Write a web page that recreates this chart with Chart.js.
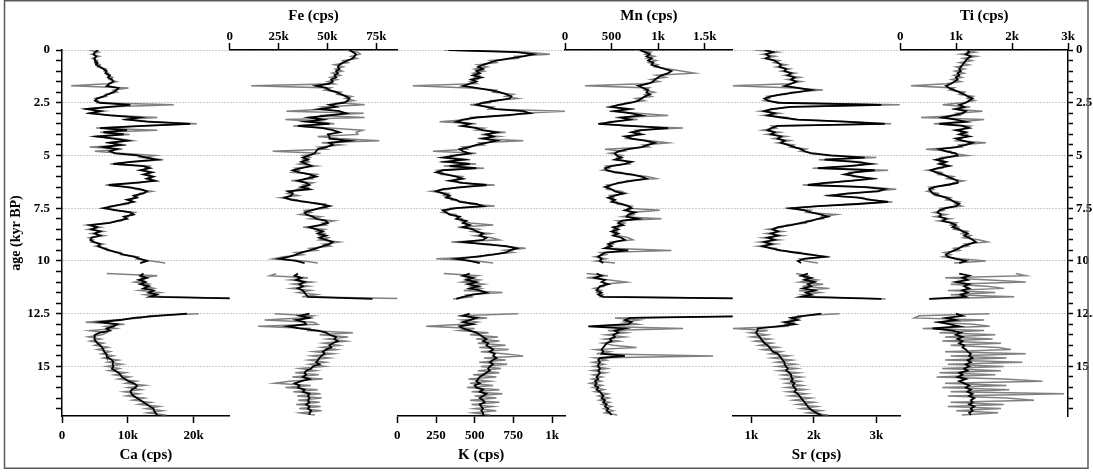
<!DOCTYPE html>
<html>
<head>
<meta charset="utf-8">
<title>XRF core scanning record</title>
<script src="https://cdn.jsdelivr.net/npm/chart.js@4.4.1/dist/chart.umd.min.js"></script>
<style>
  body { margin: 0; background: #fff; }
  #wrap { width: 1093px; height: 473px; }
</style>
</head>
<body>
<div id="wrap"><canvas id="xrf" width="1093" height="473"></canvas></div>
<script>
// Age in kyr BP (null values at 10.35 and 12.15 mark the core gaps)
const ages = [
  0, 0.1, 0.2, 0.3, 0.4, 0.5, 0.6, 0.7, 0.8, 0.9,
  1, 1.1, 1.2, 1.3, 1.4, 1.5, 1.6, 1.7, 1.8, 1.9,
  2, 2.1, 2.2, 2.3, 2.4, 2.5, 2.6, 2.7, 2.8, 2.9,
  3, 3.1, 3.2, 3.3, 3.4, 3.5, 3.6, 3.7, 3.8, 3.9,
  4, 4.1, 4.2, 4.3, 4.4, 4.5, 4.6, 4.7, 4.8, 4.9,
  5, 5.1, 5.2, 5.3, 5.4, 5.5, 5.6, 5.7, 5.8, 5.9,
  6, 6.1, 6.2, 6.3, 6.4, 6.5, 6.6, 6.7, 6.8, 6.9,
  7, 7.1, 7.2, 7.3, 7.4, 7.5, 7.6, 7.7, 7.8, 7.9,
  8, 8.1, 8.2, 8.3, 8.4, 8.5, 8.6, 8.7, 8.8, 8.9,
  9, 9.1, 9.2, 9.3, 9.4, 9.5, 9.6, 9.7, 9.8, 9.9,
  10, 10.1,
  10.35,
  10.6, 10.7, 10.8, 10.9, 11, 11.1, 11.2, 11.3, 11.4, 11.5, 11.6, 11.7, 11.8,
  12.15,
  12.5, 12.6, 12.7, 12.8, 12.9, 13, 13.1, 13.2, 13.3, 13.4,
  13.5, 13.6, 13.7, 13.8, 13.9, 14, 14.1, 14.2, 14.3, 14.4,
  14.5, 14.6, 14.7, 14.8, 14.9, 15, 15.1, 15.2, 15.3, 15.4,
  15.5, 15.6, 15.7, 15.8, 15.9, 16, 16.1, 16.2, 16.3, 16.4,
  16.5, 16.6, 16.7, 16.8, 16.9, 17, 17.1, 17.2, 17.3
];

// tick labels of each panel
const caTicks = [0, 10000, 20000];
const feTicks = [0, 25000, 50000, 75000];
const kTicks = [0, 250, 500, 750, 1000];
const mnTicks = [0, 500, 1000, 1500];
const srTicks = [1000, 2000, 3000];
const tiTicks = [0, 1000, 2000, 3000];

// Ca (cps)
const caRaw = [
  4100, 5600, 4500, 5700, 4600, 5400, 5000, 5800, 5400, 6700,
  6400, 7100, 6900, 7700, 7200, 8300, 6900, 1400, 10100, 7800,
  8400, 6600, 6800, 5000, 5500, 5300, 17000, 6700, 3300, 6400,
  3800, 8200, 14500, 9200, 14000, 20500, 11600, 5200, 14500, 5800,
  10300, 4800, 8600, 10700, 6600, 9800, 4200, 9200, 5000, 8900,
  14200, 12200, 15400, 11200, 7300, 13300, 12600, 12700, 13000, 13300,
  13200, 13600, 13500, 11700, 6600, 10600, 11200, 13700, 11800, 11600,
  10800, 10700, 10300, 10100, 7200, 6900, 7800, 11100, 10300, 10100,
  9300, 9100, 6800, 3800, 5900, 4000, 6300, 4500, 6400, 4100,
  4800, 4400, 6300, 5100, 6800, 6800, 9000, 8900, 11600, 11300,
  13600, 15700,
  null,
  6800, 14500, 12100, 12500, 11000, 13300, 12600, 14000, 11700, 14900, 12600, 15300, 30000,
  null,
  20800, 13300, 12000, 7900, 3600, 9500, 6600, 8200, 4200, 6800,
  6100, 4000, 5900, 4300, 6300, 5000, 7000, 5400, 7300, 6000,
  7800, 6300, 8600, 7000, 9100, 6800, 8700, 7100, 9700, 8000,
  10300, 8600, 11300, 9700, 12600, 10000, 12000, 9400, 11700, 9800,
  12500, 10800, 13500, 11700, 14800, 12800, 15300, 13000, 15800
];
const caSmooth = [
  5500, 5000, 4800, 5200, 4900, 5000, 5400, 5200, 5800, 6300,
  6800, 6600, 7300, 7000, 7600, 7800, 7200, 6800, 8600, 8300,
  7800, 7000, 6300, 5300, 5000, 5800, 10400, 7300, 3800, 5800,
  4300, 7300, 11700, 9900, 12900, 19500, 12400, 5800, 9900, 6300,
  9400, 5300, 7800, 9900, 7300, 8900, 6300, 8400, 7300, 8100,
  11400, 12900, 14400, 10400, 7800, 12400, 13400, 11900, 13700, 12400,
  13900, 12900, 14200, 10900, 7100, 9900, 11900, 12900, 12400, 10900,
  11400, 9900, 10900, 9400, 7800, 6300, 8400, 10400, 10900, 9400,
  9900, 8400, 7300, 4300, 5300, 4500, 5800, 5000, 5800, 4500,
  4300, 4800, 5800, 5500, 6300, 7300, 8400, 9400, 10900, 11900,
  12900, 11900,
  null,
  12400, 11900, 12900, 11700, 12700, 11900, 13200, 12400, 13900, 13200, 14400, 13400, 30000,
  null,
  19000, 14500, 10900, 8900, 5800, 8400, 7800, 6800, 7300, 5800,
  5000, 4900, 5000, 5100, 5400, 5800, 6100, 6300, 6400, 6700,
  6800, 7100, 7600, 7800, 7700, 7800, 7600, 8100, 8600, 8900,
  9100, 9600, 10100, 10900, 11400, 11200, 10600, 10400, 10600, 10900,
  11400, 11900, 12400, 12900, 13400, 13900, 14000, 14200, 14500
];

// Fe (cps)
const feRaw = [
  58700, 65500, 66800, 62000, 65000, 58000, 60500, 53500, 58000, 54000,
  57500, 52500, 56500, 51500, 55000, 50000, 53500, 11000, 51500, 48500,
  57000, 55000, 62500, 59000, 63500, 56000, 69000, 47000, 50500, 29000,
  68500, 46000, 69000, 28500, 45500, 53500, 32500, 51000, 68000, 64600,
  65500, 45000, 56000, 76500, 47000, 57000, 45500, 49500, 22000, 46500,
  37500, 41000, 37500, 40500, 35500, 44500, 33500, 35500, 32000, 44500,
  41000, 42500, 31500, 42500, 37500, 40000, 34500, 32500, 29500, 35000,
  26000, 34500, 36500, 49000, 48000, 50000, 38500, 41500, 36000, 46500,
  41000, 53500, 47500, 49500, 37500, 48500, 44500, 48500, 46000, 50500,
  46000, 56000, 48000, 51500, 41000, 44500, 33500, 37500, 27500, 22000,
  38000, 45000,
  null,
  23800, 20400, 40000, 31000, 42000, 32500, 40500, 31500, 41500, 35000, 44500, 37000, 95000,
  null,
  23000, 42500, 36000, 17900, 43000, 45000, 14500, 41000, 40000, 63000,
  46000, 60500, 50000, 59500, 48000, 56000, 47000, 54500, 43000, 53000,
  42000, 51000, 40500, 49000, 41000, 48500, 36000, 44000, 33500, 45500,
  32000, 47500, 30500, 23000, 41500, 28500, 45000, 32500, 46500, 34500,
  47000, 35000, 46000, 34000, 46500, 35500, 47000, 36000, 43500
];
const feSmooth = [
  61200, 62900, 64600, 63800, 62900, 60400, 57800, 56100, 55300, 56100,
  54400, 55300, 53600, 54400, 51900, 52700, 51000, 44200, 49300, 51000,
  54400, 57000, 59500, 61200, 60400, 58700, 51000, 54400, 45900, 56100,
  59500, 51000, 40800, 47600, 39100, 51000, 34900, 47600, 52700, 56100,
  50200, 51000, 51000, 61200, 51000, 52700, 49300, 45100, 44200, 43400,
  40800, 37400, 40000, 36600, 39100, 41700, 36600, 32300, 35700, 40800,
  44200, 39100, 34900, 39100, 40800, 36600, 40800, 29800, 32300, 31500,
  28100, 31500, 39100, 45900, 51000, 45900, 41700, 38300, 39100, 42500,
  44200, 49300, 50200, 45900, 40800, 44200, 47600, 45100, 49300, 45900,
  49300, 52700, 51000, 47600, 44200, 40800, 36600, 34000, 30600, 25500,
  34000, 38300,
  null,
  34900, 33200, 36600, 34000, 38300, 35700, 37400, 34900, 37400, 38300, 39100, 40000, 73000,
  null,
  40800, 35700, 40800, 34000, 38300, 39100, 29800, 35700, 45100, 49300,
  51000, 54400, 53600, 55300, 52700, 51000, 51900, 49300, 47600, 48500,
  46800, 45900, 45100, 44200, 45900, 42500, 41700, 39100, 38300, 39100,
  37400, 40800, 36600, 33200, 35700, 34900, 38300, 37400, 40800, 40000,
  40800, 40000, 40800, 39100, 40800, 40000, 41700, 40800, 40800
];

// K (cps)
const kRaw = [
  300, 820, 987, 760, 780, 600, 640, 520, 580, 500,
  560, 490, 530, 500, 520, 470, 510, 100, 470, 640,
  620, 750, 700, 780, 600, 600, 470, 620, 590, 1090,
  800, 730, 470, 460, 273, 510, 390, 560, 510, 700,
  540, 660, 520, 814, 530, 560, 420, 450, 230, 510,
  340, 330, 470, 280, 510, 300, 560, 260, 290, 280,
  420, 390, 380, 400, 630, 390, 330, 220, 330, 300,
  350, 350, 440, 470, 630, 340, 330, 290, 380, 380,
  420, 410, 470, 620, 390, 530, 480, 600, 500, 610,
  660, 349, 600, 680, 830, 690, 750, 580, 540, 251,
  510, 620,
  null,
  300, 520, 450, 530, 420, 560, 480, 540, 430, 680, 450, 480, 360,
  null,
  780, 390, 580, 420, 520, 430, 186, 500, 400, 590,
  470, 650, 510, 660, 520, 700, 530, 720, 540, 690,
  814, 560, 700, 530, 710, 540, 670, 520, 660, 490,
  640, 460, 600, 470, 620, 450, 660, 480, 680, 500,
  640, 470, 660, 480, 620, 500, 640, 490, 600
];
const kSmooth = [
  330, 771, 879, 814, 727, 641, 598, 554, 522, 554,
  511, 533, 489, 543, 478, 511, 468, 424, 511, 598,
  662, 706, 738, 727, 641, 554, 511, 576, 641, 814,
  857, 684, 511, 424, 381, 468, 424, 511, 554, 641,
  576, 619, 554, 641, 576, 511, 468, 403, 424, 468,
  381, 294, 424, 316, 468, 338, 511, 294, 251, 316,
  381, 424, 338, 424, 576, 424, 294, 251, 294, 338,
  316, 381, 403, 511, 554, 381, 294, 316, 338, 403,
  381, 446, 424, 468, 424, 489, 511, 554, 533, 576,
  554, 424, 554, 706, 771, 727, 706, 619, 511, 381,
  468, 533,
  null,
  468, 424, 489, 446, 511, 457, 522, 468, 533, 576, 489, 424, 381,
  null,
  468, 424, 511, 468, 424, 489, 403, 424, 468, 511,
  533, 554, 576, 554, 587, 576, 598, 619, 598, 630,
  619, 641, 619, 598, 619, 598, 587, 598, 576, 554,
  533, 522, 511, 533, 500, 511, 554, 533, 576, 554,
  533, 554, 565, 533, 543, 554, 543, 554, 554
];

// Mn (cps)
const mnRaw = [
  750, 920, 860, 960, 880, 980, 900, 1000, 960, 1120,
  1250, 1390, 980, 1080, 920, 1010, 840, 214, 900, 850,
  960, 860, 930, 760, 850, 650, 620, 440, 750, 480,
  780, 1108, 540, 780, 470, 420, 640, 1268, 760, 800,
  760, 720, 660, 920, 1108, 840, 900, 429, 620, 480,
  620, 560, 600, 680, 700, 440, 480, 400, 600, 660,
  880, 980, 660, 620, 450, 480, 450, 600, 661, 480,
  520, 490, 560, 560, 720, 680, 1018, 700, 740, 620,
  1036, 560, 640, 570, 580, 520, 560, 520, 580, 680,
  730, 490, 520, 450, 480, 1143, 380, 440, 320, 440,
  330, 536,
  null,
  232, 460, 232, 480, 661, 420, 420, 310, 390, 340, 410, 380, 2500,
  null,
  2700, 2500, 536, 800, 640, 780, 300, 1268, 460, 660,
  440, 640, 420, 580, 400, 520, 768, 330, 480, 340,
  1590, 320, 440, 300, 420, 310, 450, 290, 440, 300,
  400, 290, 390, 270, 400, 300, 420, 320, 460, 360,
  470, 370, 480, 400, 500, 420, 520, 430, 560
];
const mnSmooth = [
  804, 858, 911, 875, 929, 893, 947, 929, 1000, 1072,
  1143, 1108, 1036, 1000, 965, 947, 893, 786, 840, 893,
  875, 911, 858, 822, 786, 715, 572, 500, 679, 536,
  715, 822, 607, 697, 536, 357, 715, 1108, 822, 715,
  822, 643, 715, 858, 965, 893, 822, 679, 572, 536,
  554, 607, 536, 715, 643, 500, 429, 447, 536, 715,
  822, 875, 715, 572, 500, 429, 500, 536, 625, 536,
  464, 536, 500, 607, 679, 715, 643, 750, 679, 661,
  786, 607, 572, 625, 518, 572, 500, 572, 518, 607,
  643, 536, 464, 500, 429, 679, 429, 393, 357, 393,
  375, 411,
  null,
  339, 393, 322, 429, 393, 464, 375, 357, 339, 393, 357, 411, 2400,
  null,
  2600, 2300, 697, 643, 715, 679, 250, 643, 536, 572,
  518, 536, 482, 500, 447, 429, 411, 393, 411, 393,
  643, 375, 357, 375, 357, 357, 375, 357, 375, 357,
  339, 357, 322, 339, 322, 357, 339, 375, 393, 411,
  393, 429, 411, 447, 429, 464, 447, 482, 500
];

// Sr (cps)
const srRaw = [
  1050, 1420, 1180, 1380, 1200, 1450, 1360, 1560, 1400, 1620,
  1480, 1700, 1540, 1780, 1580, 1800, 1600, 700, 1680, 2145,
  1640, 1560, 1250, 1290, 1200, 1520, 3375, 1560, 1400, 1140,
  1450, 1200, 1580, 1660, 2600, 3240, 1330, 1400, 1180, 1460,
  1250, 1560, 1360, 1620, 1420, 1680, 1620, 1880, 1780, 2050,
  2200, 3000, 2080, 2760, 2850, 2650, 1980, 3190, 2560, 2600,
  2620, 3020, 2500, 2280, 1820, 2900, 3320, 2930, 2640, 2180,
  2800, 2840, 3260, 2600, 2150, 1560, 1950, 1880, 2360, 2120,
  2150, 1880, 1880, 1560, 1500, 1260, 1500, 1240, 1500, 1180,
  1450, 1130, 1400, 1110, 1400, 1400, 1780, 1880, 2250, 1780,
  1850, 2065,
  null,
  1717, 1900, 1850, 2050, 1780, 2150, 1820, 2252, 1760, 2100, 1820, 2050, 3150,
  null,
  2412, 1750, 1780, 1620, 1680, 1540, 1580, 700, 1260, 980,
  1250, 1000, 1300, 1060, 1330, 1130, 1420, 1180, 1480, 1300,
  1600, 1330, 1650, 1400, 1700, 1420, 1720, 1440, 1760, 1500,
  1800, 1520, 1780, 1560, 1820, 1560, 1860, 1580, 1880, 1620,
  1950, 1680, 2000, 1740, 2050, 1800, 2120, 1900, 2230
];
const srSmooth = [
  1209, 1342, 1235, 1289, 1235, 1369, 1423, 1476, 1449, 1556,
  1530, 1637, 1583, 1690, 1637, 1717, 1637, 1530, 1744, 1958,
  1744, 1476, 1316, 1209, 1262, 1423, 3081, 1637, 1316, 1209,
  1369, 1262, 1476, 1744, 2493, 3135, 1423, 1316, 1262, 1369,
  1316, 1476, 1423, 1530, 1476, 1583, 1690, 1797, 1851, 1958,
  2279, 2814, 2172, 2653, 2921, 2546, 2065, 2974, 2653, 2493,
  2707, 2921, 2600, 2172, 1904, 2814, 3135, 3028, 2546, 2279,
  2707, 2921, 3188, 2707, 2065, 1637, 1851, 1958, 2118, 2225,
  2065, 1958, 1797, 1637, 1423, 1342, 1423, 1316, 1423, 1262,
  1369, 1209, 1316, 1182, 1316, 1476, 1690, 1958, 2172, 1851,
  1744, 1797,
  null,
  1904, 1797, 1958, 1851, 2011, 1904, 1958, 1824, 2011, 1877, 1958, 1797, 3081,
  null,
  2118, 1851, 1637, 1744, 1530, 1690, 1423, 1100, 1100, 1075,
  1100, 1130, 1155, 1182, 1209, 1262, 1289, 1316, 1342, 1423,
  1449, 1476, 1503, 1530, 1530, 1556, 1583, 1556, 1610, 1637,
  1637, 1663, 1637, 1690, 1663, 1690, 1717, 1690, 1744, 1770,
  1797, 1824, 1851, 1877, 1904, 1931, 1984, 2038, 2118
];

// Ti (cps)
const tiRaw = [
  1100, 1340, 1080, 1360, 1120, 1280, 1060, 1230, 1000, 1150,
  980, 1140, 960, 1100, 920, 1080, 820, 190, 960, 880,
  1150, 1060, 1300, 1200, 1330, 1100, 756, 1250, 920, 1470,
  1000, 1060, 369, 1500, 1080, 600, 1250, 1130, 1100, 1080,
  1200, 1150, 1100, 1000, 1530, 1050, 1100, 458, 900, 920,
  1203, 720, 760, 700, 800, 780, 760, 480, 740, 680,
  950, 840, 1130, 940, 900, 520, 600, 480, 680, 620,
  900, 820, 1060, 980, 1100, 720, 780, 600, 820, 620,
  900, 680, 1000, 900, 1040, 960, 1200, 1100, 1260, 1130,
  1400, 1560, 1150, 1220, 960, 1060, 780, 900, 760, 1080,
  1530, 960,
  null,
  2066, 2244, 800, 1600, 2244, 900, 1550, 1857, 850, 1700, 900, 2036, 518,
  null,
  1590, 339, 250, 1500, 600, 1300, 1600, 400, 1500, 700,
  1700, 800, 1650, 750, 1800, 900, 1750, 1977, 800, 2244,
  900, 1900, 800, 2184, 850, 1850, 750, 1800, 700, 1700,
  650, 1850, 2542, 800, 1900, 750, 1950, 900, 2929, 850,
  1900, 2393, 900, 1850, 850, 1800, 1000, 1750, 1100
];
const tiSmooth = [
  1203, 1232, 1173, 1262, 1203, 1173, 1143, 1113, 1083, 1054,
  1083, 1024, 1054, 994, 1024, 964, 905, 816, 875, 964,
  1054, 1143, 1203, 1292, 1232, 1173, 1054, 1143, 994, 1173,
  1113, 935, 756, 994, 1173, 697, 1113, 1232, 994, 1173,
  1054, 1232, 994, 1113, 1292, 1173, 994, 697, 816, 994,
  1024, 816, 637, 816, 697, 875, 667, 548, 637, 756,
  845, 935, 1024, 1024, 816, 607, 518, 548, 577, 697,
  816, 905, 964, 1054, 994, 816, 697, 667, 726, 697,
  816, 756, 905, 994, 935, 1054, 1113, 1203, 1143, 1232,
  1292, 1351, 1232, 1113, 1054, 964, 875, 816, 845, 994,
  1173, 1054,
  null,
  1054, 1232, 1113, 1203, 994, 1232, 1143, 1232, 1113, 1203, 1083, 1173, 518,
  null,
  994, 1113, 816, 994, 697, 875, 1054, 577, 935, 1083,
  994, 1113, 1024, 1113, 1054, 1143, 1113, 1173, 1203, 1262,
  1232, 1292, 1203, 1262, 1173, 1232, 1143, 1203, 1054, 1113,
  1024, 1173, 1054, 1143, 1232, 1173, 1262, 1203, 1292, 1232,
  1322, 1262, 1292, 1232, 1322, 1262, 1292, 1232, 1262
];

const serif = "'Liberation Serif', 'Times New Roman', serif";
Chart.defaults.font.family = serif;
Chart.defaults.color = "#000";

function kFmt(v) {
  return v >= 1000 ? v / 1000 + "k" : v;
}

function isMajor(v) {
  return Math.abs(v / 2.5 - Math.round(v / 2.5)) < 1e-6;
}

function toPoints(vals) {
  return vals.map((v, i) => ({ x: v, y: ages[i] }));
}

// one element panel: x axis at top or bottom, stacked side by side
function panelAxis(position, min, max, tickVals, title) {
  const top = position === "top";
  return {
    type: "linear",
    position: position,
    stack: position,
    min: min,
    max: max,
    afterBuildTicks: (scale) => {
      scale.ticks = tickVals.map((v) => ({ value: v }));
    },
    ticks: {
      autoSkip: false,
      maxRotation: 0,
      padding: top ? -1 : 5,
      font: { size: 13, weight: "bold" },
      callback: kFmt,
    },
    grid: { drawOnChartArea: false, tickLength: 7, tickColor: "#000", tickWidth: 1.5 },
    border: { color: "#000", width: 1.5 },
    title: {
      display: true,
      text: title,
      font: { size: 15, weight: "bold" },
      padding: top ? { top: 7, bottom: 0 } : { top: 0, bottom: 8.5 },
    },
    afterFit: (scale) => {
      scale.height = top ? 50 : 57;
    },
  };
}

// empty slot in a stack (keeps panels aligned)
function gapAxis(position) {
  return {
    type: "linear",
    position: position,
    stack: position,
    min: 0,
    max: 1,
    ticks: { display: false },
    grid: { display: false },
    border: { display: false },
    afterFit: (scale) => {
      scale.height = position === "top" ? 50 : 57;
    },
  };
}

function ageAxis(position) {
  const left = position === "left";
  return {
    type: "linear",
    position: position,
    reverse: true,
    min: 0,
    max: 17.35,
    ticks: {
      stepSize: 0.5,
      includeBounds: false,
      autoSkip: false,
      padding: left ? 6 : 3,
      font: { size: 13, weight: "bold" },
      callback: (v) => (isMajor(v) ? v : ""),
    },
    grid: {
      drawOnChartArea: left,
      color: (c) => (c.tick && isMajor(c.tick.value) ? "#9a9a9a" : "rgba(0,0,0,0)"),
      lineWidth: 1,
      tickColor: "#000",
      tickWidth: 1.5,
      tickLength: left ? 6 : 5,
      tickBorderDash: [],
    },
    border: { color: "#000", width: 1.5, dash: [1, 2] },
    title: {
      display: left,
      text: "age (kyr BP)",
      font: { size: 14, weight: "bold" },
      padding: { top: 7.5, bottom: 0 },
    },
    afterFit: (scale) => {
      scale.width = left ? 62 : 25;
    },
  };
}

function rawSet(vals, axis) {
  return {
    data: toPoints(vals),
    xAxisID: axis,
    yAxisID: "y",
    borderColor: "#808080",
    borderWidth: 1.5,
    pointRadius: 0,
    order: 2,
  };
}

function smoothSet(vals, axis) {
  return {
    data: toPoints(vals),
    xAxisID: axis,
    yAxisID: "y",
    borderColor: "#000",
    borderWidth: 1.8,
    pointRadius: 0,
    order: 1,
  };
}

// Outer frame
const framePlugin = {
  id: "frame",
  afterDraw(chart) {
    const c = chart.ctx;
    c.save();
    c.strokeStyle = "#5a5a5a";
    c.lineWidth = 1.5;
    c.strokeRect(4.5, 0.75, 1083.5, 467.5);
    c.restore();
  },
};

new Chart(document.getElementById("xrf"), {
  type: "line",
  data: {
    datasets: [
      rawSet(caRaw, "xCa"), smoothSet(caSmooth, "xCa"),
      rawSet(feRaw, "xFe"), smoothSet(feSmooth, "xFe"),
      rawSet(kRaw, "xK"), smoothSet(kSmooth, "xK"),
      rawSet(mnRaw, "xMn"), smoothSet(mnSmooth, "xMn"),
      rawSet(srRaw, "xSr"), smoothSet(srSmooth, "xSr"),
      rawSet(tiRaw, "xTi"), smoothSet(tiSmooth, "xTi"),
    ],
  },
  options: {
    indexAxis: "y",
    responsive: false,
    animation: false,
    events: [],
    spanGaps: false,
    layout: { padding: 0 },
    scales: {
      y: ageAxis("left"),
      y2: ageAxis("right"),
      // bottom stack, left to right
      xCa: panelAxis("bottom", 0, 25500, caTicks, "Ca (cps)"),
      gB1: gapAxis("bottom"),
      xK: panelAxis("bottom", 0, 1084, kTicks, "K (cps)"),
      gB2: gapAxis("bottom"),
      xSr: panelAxis("bottom", 700, 3385, srTicks, "Sr (cps)"),
      gB3: gapAxis("bottom"),
      // top stack is laid out in reverse, so list it right to left
      xTi: panelAxis("top", 0, 3000, tiTicks, "Ti (cps)"),
      gT3: gapAxis("top"),
      xMn: panelAxis("top", 0, 1800, mnTicks, "Mn (cps)"),
      gT2: gapAxis("top"),
      xFe: panelAxis("top", 0, 85700, feTicks, "Fe (cps)"),
      gT1: gapAxis("top"),
    },
    plugins: {
      legend: { display: false },
      tooltip: { enabled: false },
    },
  },
  plugins: [framePlugin],
});
</script>
</body>
</html>
